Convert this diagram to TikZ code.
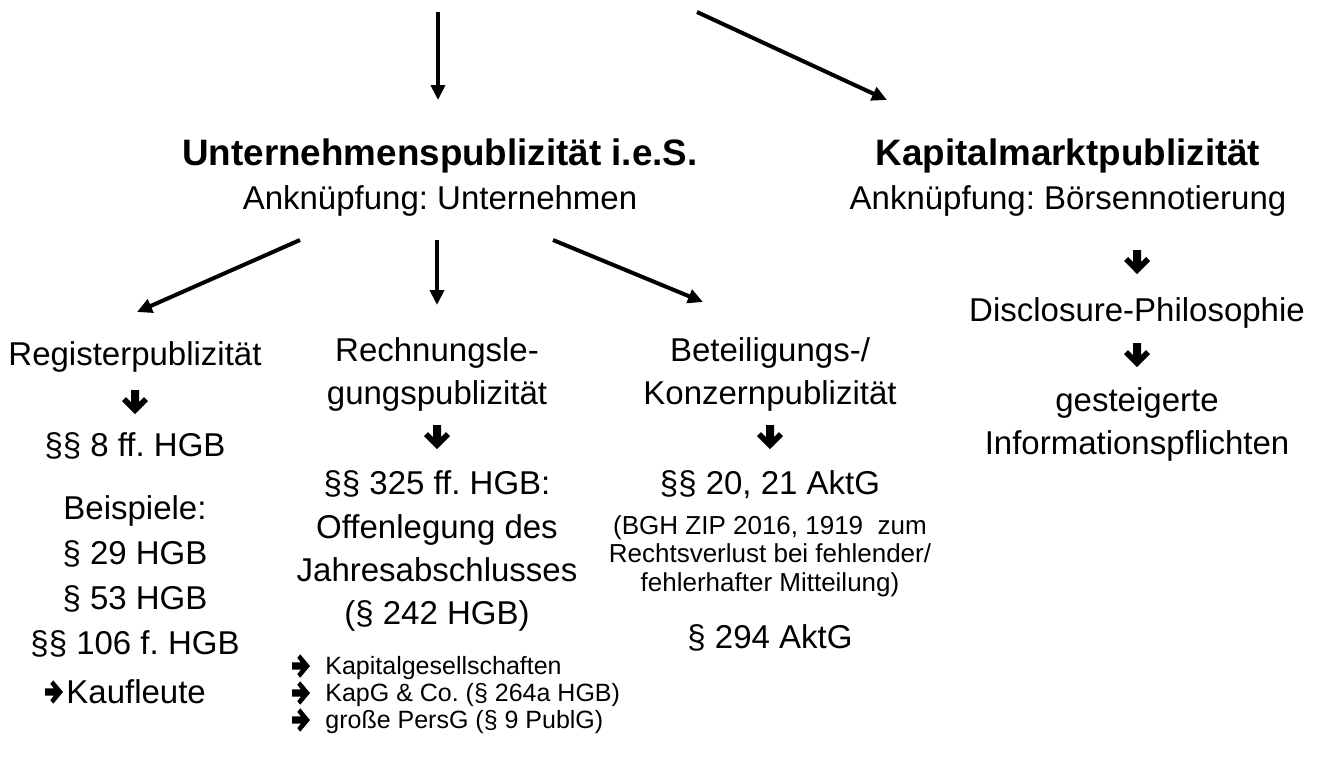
\documentclass[tikz,border=0pt]{standalone}
\usepackage{fontspec}
\setmainfont{Liberation Sans}
\usetikzlibrary{arrows.meta,calc}
\frenchspacing

\tikzset{
  txt/.style={anchor=base,inner sep=0pt,font=\fontsize{16.5}{20}\selectfont},
  headtxt/.style={anchor=base,inner sep=0pt,font=\fontsize{18.4}{22}\selectfont\bfseries},
  smalltxt/.style={anchor=base,inner sep=0pt,font=\fontsize{13}{16}\selectfont},
  listtxt/.style={anchor=base west,inner sep=0pt,font=\fontsize{12.5}{15}\selectfont},
  conn/.style={line width=2pt,-{Triangle[length=7.5pt,width=7pt]}},
  % heavy block arrow pointing down (y axis points down)
  darr/.pic={\fill (-4,-12) -- (4,-12) -- (4,0) -- (9,-5) -- (13,-1) -- (0,12)
                -- (-13,-1) -- (-9,-5) -- (-4,0) -- cycle;},
  rarr/.style={xscale=0.75,yscale=0.9,rotate=90}
}

\begin{document}
\begin{tikzpicture}[x=0.5pt,y=-0.5pt]
\useasboundingbox (0,0) rectangle (1319,762);
\fill[white] (0,0) rectangle (1319,762);

% incoming arrows at the top
\coordinate (tA) at (438,12);
\coordinate (tAe) at (438,100);
\coordinate (tB) at (697,12);
\coordinate (tBe) at (887,100);
\draw[conn] (tA) -- (tAe);
\draw[conn] (tB) -- (tBe);

% the two kinds of publicity
\node[headtxt] (hu) at (440,165) {Unternehmenspublizität i.e.S.};
\node[txt] (hua) at (440,209) {Anknüpfung: Unternehmen};
\node[headtxt] (hk) at (1068,165) {Kapitalmarktpublizität};
\node[txt] (hka) at (1068,209) {Anknüpfung: Börsennotierung};

% branches below Unternehmenspublizität
\coordinate (bL) at (300,240);
\coordinate (bLe) at (137,312);
\coordinate (bM) at (437,240);
\coordinate (bMe) at (437,305);
\coordinate (bR) at (553,240);
\coordinate (bRe) at (703,302);
\draw[conn] (bL) -- (bLe);
\draw[conn] (bM) -- (bMe);
\draw[conn] (bR) -- (bRe);

% column 1: Registerpublizität
\node[txt] (reg) at (135,365) {Registerpublizität};
\pic at (135,402) {darr};
\node[txt] (reg1) at (135,456) {§§ 8 ff.\ HGB};
\node[txt] (bsp) at (135,519) {Beispiele:};
\node[txt] (bsp1) at (135,564) {§ 29 HGB};
\node[txt] (bsp2) at (135,609) {§ 53 HGB};
\node[txt] (bsp3) at (135,654) {§§ 106 f.\ HGB};
\pic[rarr] at (54,692) {darr};
\node[txt,anchor=base west] (kfl) at (66,703) {Kaufleute};

% column 2: Rechnungslegungspublizität
\node[txt] (rl1) at (437,361) {Rechnungsle-};
\node[txt] (rl2) at (437,404) {gungspublizität};
\pic at (437,437) {darr};
\node[txt] (rl3) at (437,494) {§§ 325 ff.\ HGB:};
\node[txt] (rl4) at (437,538) {Offenlegung des};
\node[txt] (rl5) at (437,581) {Jahresabschlusses};
\node[txt] (rl6) at (437,624) {(§ 242 HGB)};
\pic[rarr] at (301,666) {darr};
\node[listtxt] (li1) at (325,674) {Kapitalgesellschaften};
\pic[rarr] at (301,693) {darr};
\node[listtxt] (li2) at (325,701) {KapG \& Co.\ (§ 264a HGB)};
\pic[rarr] at (301,720) {darr};
\node[listtxt] (li3) at (325,728) {große PersG (§ 9 PublG)};

% column 3: Beteiligungs-/Konzernpublizität
\node[txt] (bk1) at (770,361) {Beteiligungs-/};
\node[txt] (bk2) at (770,404) {Konzernpublizität};
\pic at (770,437) {darr};
\node[txt] (bk3) at (770,494) {§§ 20, 21 AktG};
\node[smalltxt] (bk4) at (770,534) {(BGH ZIP 2016, 1919\ \ zum};
\node[smalltxt] (bk5) at (770,562) {Rechtsverlust bei fehlender/};
\node[smalltxt] (bk6) at (770,591) {fehlerhafter Mitteilung)};
\node[txt] (bk7) at (770,648) {§ 294 AktG};

% column 4: Kapitalmarktpublizität
\pic at (1137,262) {darr};
\node[txt] (km1) at (1137,321) {Disclosure-Philosophie};
\pic at (1137,355) {darr};
\node[txt] (km2) at (1137,411) {gesteigerte};
\node[txt] (km3) at (1137,454) {Informationspflichten};
\end{tikzpicture}
\end{document}
